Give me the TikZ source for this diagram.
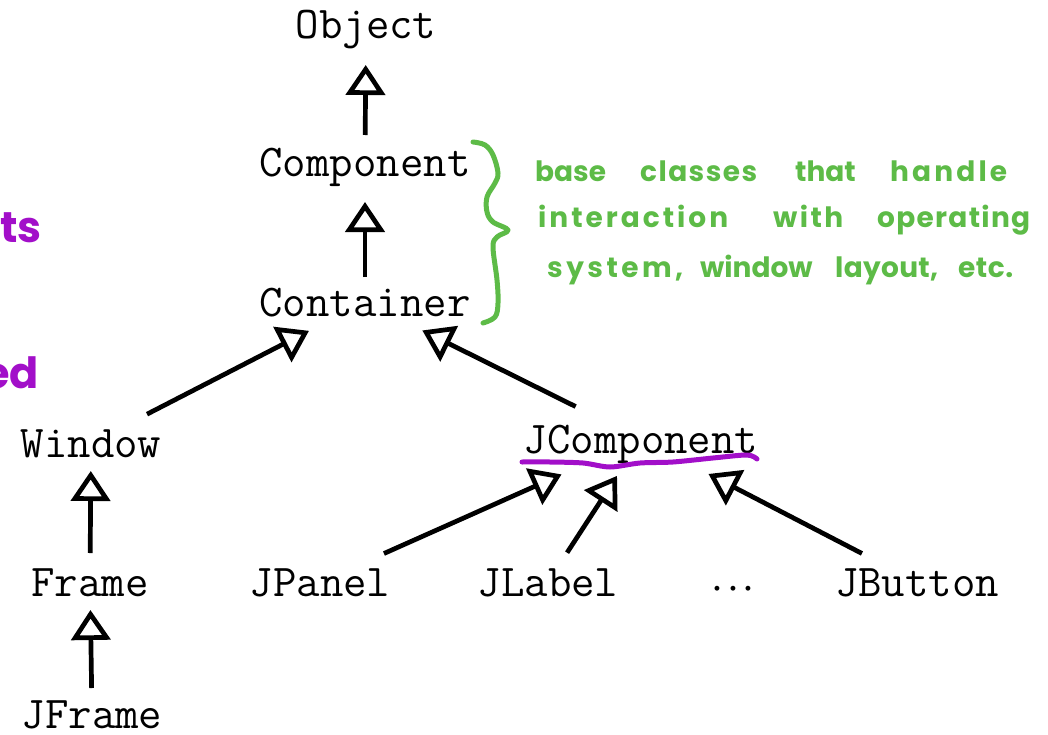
\documentclass[tikz,border=0pt]{standalone}
\usepackage{fontspec}
\usetikzlibrary{arrows.meta}
\newfontfamily\handfont{Poppins}
\definecolor{hgreen}{HTML}{5DBB47}
\definecolor{hpurple}{HTML}{A20FC9}

% spread the letters of a word evenly over a given width
\ExplSyntaxOn
\NewDocumentCommand\spreadword{mm}
  { \hbox_to_wd:nn {#1} { \tl_map_inline:nn {#2} { ##1 \hfil } \unskip } }
\ExplSyntaxOff

\begin{document}
\begin{tikzpicture}[x=1pt,y=-1pt,
  cls/.style={font=\fontsize{45.5}{50}\selectfont\ttfamily, inner sep=0pt,
              text height=28pt, text depth=0pt},
  inh/.style={line width=4.7pt, -{Triangle[open,length=30pt,width=39pt]}},
  hand/.style={font=\fontsize{28}{30}\selectfont\handfont\bfseries, text=hgreen,
               inner sep=0pt, anchor=base west},
  notemark/.style={font=\fontsize{43}{45}\selectfont\handfont\bfseries, text=hpurple,
               inner sep=0pt, anchor=base east},
  pen/.style={line width=5pt, line cap=round, line join=round}]
\path[use as bounding box] (0,0) rectangle (1048,735);

% class names
\node[cls] (Object)     at (366,25)  {Object};
\node[cls] (Component)  at (365,163) {Component};
\node[cls] (Container)  at (365,302) {Container};
\node[cls] (Window)     at (91,443)  {Window};
\node[cls] (JComponent) at (641,439) {JComponent};
\node[cls] (Frame)      at (90,582)  {Frame};
\node[cls] (JFrame)     at (92,714)  {JFrame};
\node[cls] (JPanel)     at (320,582) {JPanel};
\node[cls] (JLabel)     at (548,582) {JLabel};
\node[cls] (dots)       at (733,582) {\scalebox{1.25}{\boldmath$\cdots$}};
\node[cls] (JButton)    at (917,582) {JButton};

% inheritance arrows
\draw[inh, shorten <=28pt, shorten >=40pt] (Component.center) -- (Object.center);
\draw[inh, shorten <=25pt, shorten >=39pt] (Container.center) -- (Component.center);
\draw[inh, shorten <=63pt, shorten >=63pt] (Window.center) -- (Container.center);
\draw[inh, shorten <=73pt, shorten >=64pt] (JComponent.center) -- (Container.center);
\draw[inh, shorten <=29pt, shorten >=28pt] (Frame.center) -- (Window.center);
\draw[inh, shorten <=26pt, shorten >=28pt] (JFrame.center) -- (Frame.center);
\draw[inh, shorten <=70pt, shorten >=87pt] (JPanel.center) -- (JComponent.center);
\draw[inh, shorten <=35pt, shorten >=44pt] (JLabel.center) -- (JComponent.center);
\draw[inh, shorten <=62pt, shorten >=76pt] (JButton.center) -- (JComponent.center);

% purple underline below JComponent
\draw[pen, hpurple] plot[smooth] coordinates
  {(522,462) (550,462) (583,463) (610,467) (640,463) (673,462) (713,458) (747,455) (757,459)};

% purple margin notes, cut at the left edge
\node[notemark] (noteA) at (42,243) {ts};
\node[notemark] (noteB) at (39,388) {ed};

% green brace spanning Component and Container
\draw[pen, hgreen] plot[smooth, tension=0.6] coordinates
  {(473,142) (485,145) (493,155) (498,173) (495,183) (487,197) (487,212) (493,222)
   (508,230) (497,237) (493,247) (497,280) (498,303) (495,317) (483,323)};

% green note
\node[hand] (w1)  at (535,182) {\spreadword{67pt}{base}};
\node[hand] (w2)  at (640,182) {\spreadword{117pt}{classes}};
\node[hand] (w3)  at (795,182) {\spreadword{60pt}{that}};
\node[hand] (w4)  at (890,182) {\spreadword{117pt}{handle}};
\node[hand] (w5)  at (538,228) {\spreadword{190pt}{interaction}};
\node[hand] (w6)  at (773,228) {\spreadword{70pt}{with}};
\node[hand] (w7)  at (877,228) {\spreadword{153pt}{operating}};
\node[hand] (w8)  at (547,277) {\spreadword{136pt}{system,}};
\node[hand] (w9)  at (700,277) {\spreadword{98pt}{window}};
\node[hand] (w10) at (835,277) {\spreadword{103pt}{layout,}};
\node[hand] (w11) at (958,277) {\spreadword{55pt}{etc.}};
\end{tikzpicture}
\end{document}
